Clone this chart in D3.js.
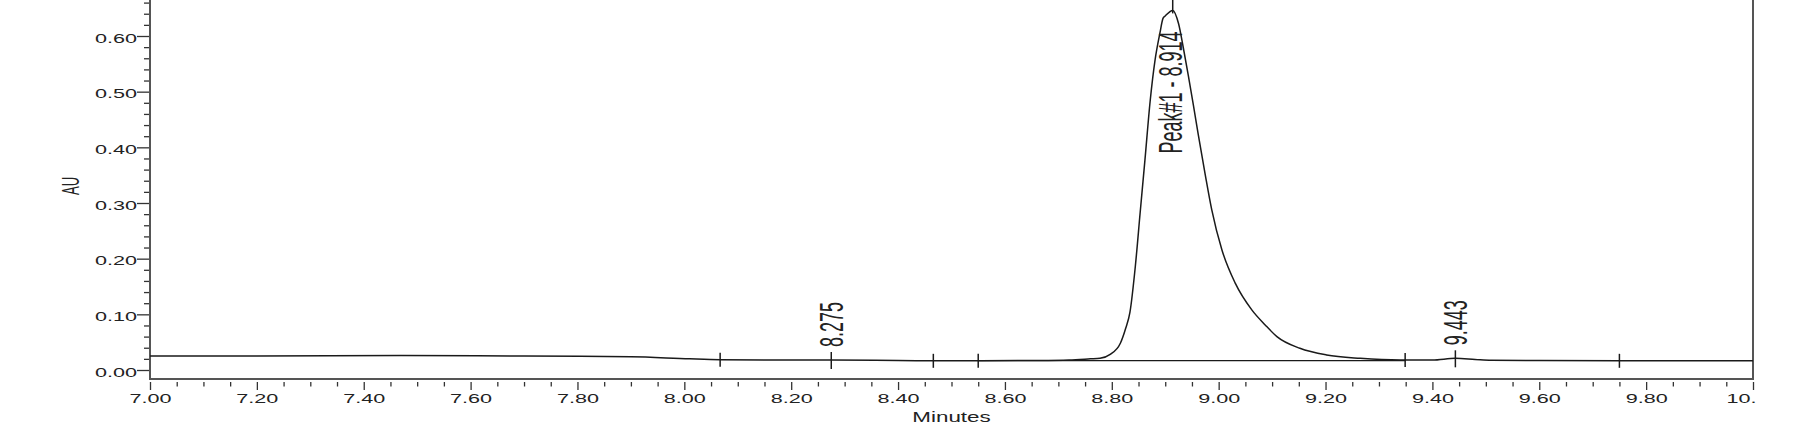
<!DOCTYPE html>
<html>
<head>
<meta charset="utf-8">
<script src="https://cdn.jsdelivr.net/npm/d3@7"></script>
<style>
  body { margin: 0; background: #fff; }
  svg { display: block; }
  text { font-family: "Liberation Sans", Arial, sans-serif; fill: #222; }
</style>
</head>
<body>
<svg></svg>
<script>
// chromatogram trace (minutes, AU)
const times = [7.00, 7.20, 7.47, 7.70, 7.90, 8.01, 8.067, 8.15, 8.275, 8.40, 8.466, 8.55,
    8.65, 8.72, 8.76, 8.778, 8.797, 8.816, 8.826, 8.834, 8.844, 8.853, 8.862, 8.872,
    8.881, 8.890, 8.896, 8.900, 8.914, 8.925, 8.934, 8.943, 8.953, 8.962, 8.975, 8.987,
    9.006, 9.031, 9.062, 9.087, 9.109, 9.152, 9.202, 9.265, 9.340, 9.40, 9.443, 9.48,
    9.51, 9.60, 9.75, 9.90, 10.00]
const absorbance = [0.025, 0.025, 0.026, 0.025, 0.024, 0.020, 0.0185, 0.018, 0.018, 0.017, 0.0165, 0.0165,
    0.017, 0.018, 0.020, 0.021, 0.028, 0.048, 0.075, 0.104, 0.186, 0.282, 0.377, 0.485,
    0.557, 0.605, 0.632, 0.636, 0.646, 0.622, 0.578, 0.530, 0.474, 0.422, 0.350, 0.288,
    0.216, 0.156, 0.108, 0.081, 0.060, 0.039, 0.027, 0.021, 0.018, 0.018, 0.021, 0.019,
    0.0175, 0.017, 0.0165, 0.0165, 0.0165]

// peak start / end markers
const markTimes = [8.067, 8.466, 8.550, 9.349, 9.750]
const markAU = [0.0185, 0.0165, 0.0165, 0.018, 0.0165]

// labelled peaks
const peakTimes = [8.275, 8.914, 9.443]
const peakAU = [0.018, 0.646, 0.021]
const peakLabels = ["8.275", "Peak#1 - 8.914", "9.443"]

// drop baseline under the main peak
const baseTimes = [8.55, 9.35]
const baseAU = [0.0167, 0.0167]

// axis ticks
const xTickValues = [7.0, 7.2, 7.4, 7.6, 7.8, 8.0, 8.2, 8.4, 8.6, 8.8, 9.0, 9.2, 9.4, 9.6, 9.8, 10.0]
const yTickValues = [0.0, 0.1, 0.2, 0.3, 0.4, 0.5, 0.6]

const W = 1801, H = 443
const stretch = 1.6      // the picture is stretched sideways, text too
const rotStretch = 1.8   // rotated labels look a bit heavier
const left = 150, right = 1753, axisY = 379

const svg = d3.select("svg")
    .attr("width", W)
    .attr("height", H)

const xScale = d3.scaleLinear()
    .domain([7, 10])
    .range([left, right])

const yScale = d3.scaleLinear()
    .domain([0, 0.6])
    .range([370, 36])

svg.append("defs").append("clipPath")
    .attr("id", "xclip")
    .append("rect")
    .attr("x", 0).attr("y", 0)
    .attr("width", right + 3).attr("height", H)

// y axis, major + minor ticks
const yMinor = d3.range(0, 34).filter(i => i % 5 != 0).map(i => i * 0.02)

svg.append("g")
    .attr("transform", "translate(" + left + ",0)")
    .call(d3.axisLeft(yScale).tickValues(yMinor).tickSize(6).tickFormat(""))
    .call(g => g.select(".domain").remove())

const yAxis = svg.append("g")
    .attr("transform", "translate(" + left + ",0)")
    .call(d3.axisLeft(yScale).tickValues(yTickValues).tickSize(13).tickFormat(d3.format(".2f")))
    .call(g => g.select(".domain").remove())

yAxis.selectAll("text")
    .attr("x", null).attr("dy", null)
    .attr("transform", "translate(-13,6) scale(" + stretch + ",1)")
    .style("font-size", "13.5px")

// x axis, ticks sit a little below the frame line
const xMinor = d3.range(0, 61).filter(i => i % 4 != 0).map(i => 7 + i * 0.05)

svg.append("g")
    .attr("transform", "translate(0," + (axisY + 3) + ")")
    .call(d3.axisBottom(xScale).tickValues(xMinor).tickSize(4.5).tickFormat(""))
    .call(g => g.select(".domain").remove())

const xAxis = svg.append("g")
    .attr("transform", "translate(0," + (axisY + 3) + ")")
    .attr("clip-path", "url(#xclip)")
    .call(d3.axisBottom(xScale).tickValues(xTickValues).tickSize(8).tickFormat(d3.format(".2f")))
    .call(g => g.select(".domain").remove())

xAxis.selectAll("text")
    .attr("y", null).attr("dy", null)
    .attr("transform", "translate(0,21) scale(" + stretch + ",1)")
    .style("font-size", "13.5px")

svg.selectAll(".tick line")
    .attr("stroke", "#333")
    .attr("stroke-width", 1.3)

// frame: left axis, bottom axis, right border
svg.append("path")
    .attr("d", "M" + left + ",-5V" + axisY + "H" + right + "V-5")
    .attr("fill", "none")
    .attr("stroke", "#555")
    .attr("stroke-width", 2)

// axis titles
svg.append("text")
    .attr("transform", "translate(" + ((left + right) / 2) + ",422) scale(" + stretch + ",1)")
    .attr("text-anchor", "middle")
    .style("font-size", "14px")
    .text("Minutes")

svg.append("text")
    .attr("transform", "translate(79,186) scale(" + rotStretch + ",1) rotate(-90)")
    .attr("text-anchor", "middle")
    .style("font-size", "13px")
    .text("AU")

// trace
const trace = times.map((t, i) => ({ t: t, v: absorbance[i] }))

const line = d3.line()
    .x(d => xScale(d.t))
    .y(d => yScale(d.v))
    .curve(d3.curveMonotoneX)

svg.append("path")
    .datum(trace)
    .attr("d", line)
    .attr("fill", "none")
    .attr("stroke", "#1a1a1a")
    .attr("stroke-width", 1.5)

// drop baseline
svg.append("line")
    .attr("x1", xScale(baseTimes[0])).attr("y1", yScale(baseAU[0]))
    .attr("x2", xScale(baseTimes[1])).attr("y2", yScale(baseAU[1]))
    .attr("stroke", "#1a1a1a")
    .attr("stroke-width", 1.3)

// start / end markers
svg.append("g")
    .selectAll("line")
    .data(markTimes)
    .enter().append("line")
    .attr("x1", d => xScale(d)).attr("x2", d => xScale(d))
    .attr("y1", (d, i) => yScale(markAU[i]) - 7)
    .attr("y2", (d, i) => yScale(markAU[i]) + 7)
    .attr("stroke", "#1a1a1a")
    .attr("stroke-width", 1.5)

// labelled peaks
const peaks = peakTimes.map((t, i) => ({ t: t, v: peakAU[i], label: peakLabels[i], big: peakAU[i] > 0.3 }))

svg.append("g")
    .selectAll("line")
    .data(peaks)
    .enter().append("line")
    .attr("x1", d => xScale(d.t)).attr("x2", d => xScale(d.t))
    .attr("y1", d => yScale(d.v) - (d.big ? 14 : 8))
    .attr("y2", d => yScale(d.v) + (d.big ? 3 : 9))
    .attr("stroke", "#1a1a1a")
    .attr("stroke-width", 1.5)

svg.append("g")
    .selectAll("text")
    .data(peaks)
    .enter().append("text")
    .attr("transform", d => {
        // big peak gets its label hung inside the peak, the small ones sit on top of the marker
        let y = d.big ? yScale(d.v) + 21 : yScale(d.v) - 13
        return "translate(" + (xScale(d.t) + (d.big ? 9.5 : 11.5)) + "," + y + ") scale(" + rotStretch + ",1) rotate(-90)"
    })
    .attr("text-anchor", d => d.big ? "end" : "start")
    .style("font-size", "18px")
    .text(d => d.label)
</script>
</body>
</html>
